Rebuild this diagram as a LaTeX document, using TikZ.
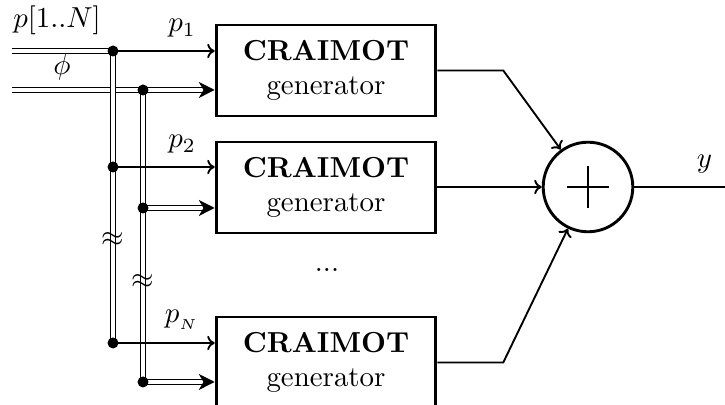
\documentclass[tikz,border=0pt]{standalone}
\usetikzlibrary{arrows.meta,calc}
\begin{document}
\begin{tikzpicture}[x=0.346pt,y=-0.346pt,
  gen/.style={draw, line width=1pt, minimum width=76pt, minimum height=31.5pt,
              align=center, inner sep=0pt, font=\normalsize},
  sig/.style={line width=0.65pt, -{To[length=2.6pt,width=5pt]}},
  bus/.style={double, double distance=1.3pt, line width=0.45pt},
  busarrow/.style={bus, -{Stealth[length=5.5pt,width=5.5pt,inset=1.6pt]}},
  junct/.style={circle, fill, inner sep=0pt, minimum size=3.8pt},
  adder/.style={draw, circle, line width=1pt, minimum size=31pt, inner sep=0pt}]
\useasboundingbox (0,0) rectangle (725,405);

% generator blocks
\node[gen] (g1) at (326,70.5)  {\textbf{CRAIMOT}\\generator};
\node[gen] (g2) at (326,187.5) {\textbf{CRAIMOT}\\generator};
\node[gen] (g3) at (326,362.5) {\textbf{CRAIMOT}\\generator};
\node at (327,270) {...};

% summing junction
\node[adder] (sum) at (588,187) {};
\draw[line width=0.6pt] ($(sum)+(-21,0)$) -- ($(sum)+(21,0)$)
                        ($(sum)+(0,-21)$) -- ($(sum)+(0,21)$);

% bus taps
\coordinate (s1) at (12,51);
\coordinate (s2) at (12,90);
\coordinate (j1) at (113,51);
\coordinate (k1) at (143,90);
\coordinate (j2) at (113,167);
\coordinate (k2) at (143,208);
\coordinate (jN) at (113,343);
\coordinate (kN) at (143,382);

% parameter and phase buses
\draw[bus] (s1) -- (j1);
\draw[busarrow] (s2) -- (s2 -| g1.west);
\draw[bus] (j1) -- (jN);
\draw[bus] (k1) -- (kN);
\node at (57,20) {$p[1..N]$};
\node at (62,67) {$\phi$};

% break marks on the vertical buses
\node at (113,240) {$\approx$};
\node at (143,282) {$\approx$};

% block inputs
\draw[sig] (j1) -- (j1 -| g1.west) node[pos=0.68, above=1pt] {$p_1$};
\draw[sig] (j2) -- (j2 -| g2.west) node[pos=0.68, above=1pt] {$p_2$};
\draw[sig] (jN) -- (jN -| g3.west) node[pos=0.68, above=1pt] {$p_{_N}$};
\draw[busarrow] (k2) -- (k2 -| g2.west);
\draw[busarrow] (kN) -- (kN -| g3.west);

\node[junct] at (j1) {};
\node[junct] at (k1) {};
\node[junct] at (j2) {};
\node[junct] at (k2) {};
\node[junct] at (jN) {};
\node[junct] at (kN) {};

% block outputs into the adder
\draw[sig] (g1.east) -- ++(66,0) -- (sum);
\draw[sig] (g2.east |- sum) -- (sum);
\draw[sig] (g3.east) -- ++(66,0) -- (sum);

% adder output
\coordinate (out) at (733,187);
\draw[sig] (sum) -- (out) node[pos=0.71, above=1pt] {$y$};
\end{tikzpicture}
\end{document}
